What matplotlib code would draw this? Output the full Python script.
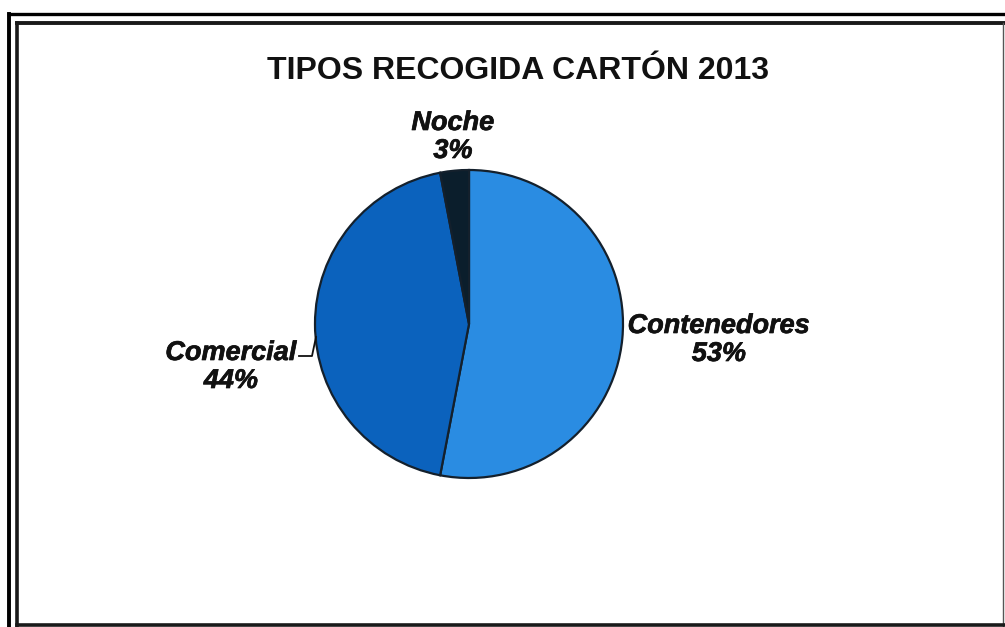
import matplotlib.pyplot as plt
import matplotlib.patheffects as pe

# Chart data
labels = ['Contenedores', 'Comercial', 'Noche']
values = [53, 44, 3]
colors = ['#2a8ce2', '#0b62bd', '#0b1e2c']
title = 'TIPOS RECOGIDA CARTÓN 2013'

W, H = 1005, 627

fig = plt.figure(figsize=(W / 100, H / 100), dpi=100)
ax = fig.add_axes([0, 0, 1, 1])

# Pie (pixel coordinates, y measured from the bottom)
cx, cy, r = 469, H - 324, 154
wedges, _ = ax.pie(values, colors=colors, startangle=90, counterclock=False,
                   center=(cx, cy), radius=r,
                   wedgeprops=dict(edgecolor='#14202c', linewidth=1.6))
ax.set_xlim(0, W)
ax.set_ylim(0, H)
ax.set_aspect('equal')
ax.axis('off')

# Frame: double lines on left and top, single on right and bottom
ax.plot([9, 9], [1, H - 14], color='black', lw=2.8)
ax.plot([17, 17], [1, H - 23], color='#1a1a1a', lw=2.6)
ax.plot([9, 1004], [H - 14, H - 14], color='black', lw=2.4)
ax.plot([17, 1004], [H - 23, H - 23], color='#1a1a1a', lw=2.8)
ax.plot([1003, 1003], [1, H - 23], color='#555555', lw=1.0)
ax.plot([17, 1004], [2, 2], color='#1a1a1a', lw=2.6)

# Title
ax.text(518, H - 71, title, ha='center', va='center', fontsize=23,
        fontweight='bold', family='Liberation Sans', color='#111111')

heavy = [pe.withStroke(linewidth=0.5, foreground='#111111')]
lab_font = dict(fontsize=19.5, fontweight='bold', style='italic',
                family='Liberation Sans', color='#111111', ha='center',
                va='center', linespacing=1.1, path_effects=heavy)

# Data labels
ax.text(719, H - 340, f'{labels[0]}\n{values[0]}%', **lab_font)
ax.text(231, H - 367, f'{labels[1]}\n{values[1]}%', **lab_font)
ax.text(453, H - 137, f'{labels[2]}\n{values[2]}%', **lab_font)

# Leader line for Comercial
ax.plot([299, 312, 316], [H - 356, H - 356, H - 337], color='#111111', lw=1.3)

fig.savefig('out.png', dpi=100, facecolor='white')
